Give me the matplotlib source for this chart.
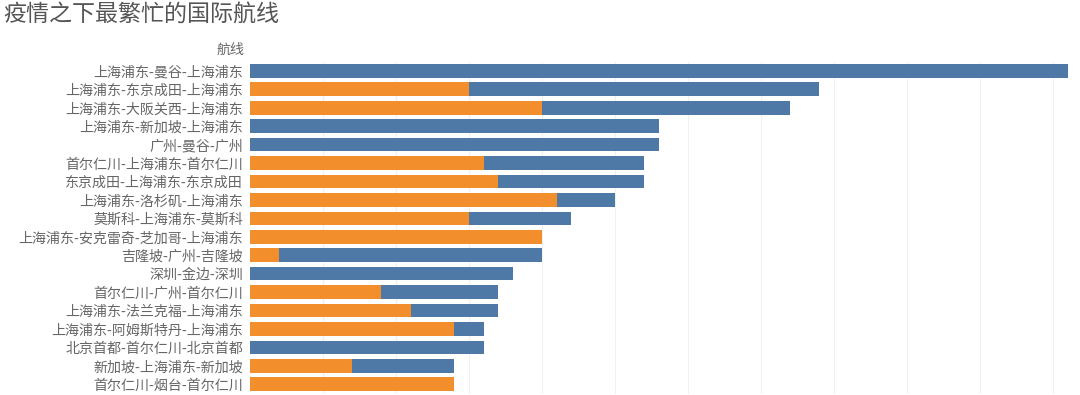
import matplotlib
matplotlib.use("Agg")
import matplotlib.pyplot as plt
import numpy as np

plt.rcParams['font.family'] = ['Noto Sans CJK SC', 'DejaVu Sans']

routes = [
    "上海浦东-曼谷-上海浦东",
    "上海浦东-东京成田-上海浦东",
    "上海浦东-大阪关西-上海浦东",
    "上海浦东-新加坡-上海浦东",
    "广州-曼谷-广州",
    "首尔仁川-上海浦东-首尔仁川",
    "东京成田-上海浦东-东京成田",
    "上海浦东-洛杉矶-上海浦东",
    "莫斯科-上海浦东-莫斯科",
    "上海浦东-安克雷奇-芝加哥-上海浦东",
    "吉隆坡-广州-吉隆坡",
    "深圳-金边-深圳",
    "首尔仁川-广州-首尔仁川",
    "上海浦东-法兰克福-上海浦东",
    "上海浦东-阿姆斯特丹-上海浦东",
    "北京首都-首尔仁川-北京首都",
    "新加坡-上海浦东-新加坡",
    "首尔仁川-烟台-首尔仁川",
]
orange_vals = [0, 15, 20, 0, 0, 16, 17, 21, 15, 20, 2, 0, 9, 11, 14, 0, 7, 14]
blue_vals = [56, 24, 17, 28, 28, 11, 10, 4, 7, 0, 18, 18, 8, 6, 2, 16, 7, 0]

ORANGE = "#F28E2B"
BLUE = "#4E79A7"

W, H = 1080, 395
fig = plt.figure(figsize=(W / 100, H / 100), dpi=100)
ax_left, ax_right = 250 / W, 1078 / W
ax_top, ax_bottom = 1 - 61.6 / H, 1 - 393.5 / H
ax = fig.add_axes([ax_left, ax_bottom, ax_right - ax_left, ax_top - ax_bottom])

y = np.arange(len(routes))
orange = np.array(orange_vals)
blue = np.array(blue_vals)
ax.barh(y, orange, height=0.74, color=ORANGE, zorder=2)
ax.barh(y, blue, left=orange, height=0.74, color=BLUE, zorder=2)

ax.set_ylim(len(routes) - 0.5, -0.5)
ax.set_xlim(0, 828 / 14.6)
ax.set_xticks(np.arange(5, 60, 5))
ax.xaxis.grid(True, color="#f0f0f0", linewidth=0.8, zorder=0)
ax.tick_params(axis='x', length=0, labelbottom=False)
ax.set_yticks(y)
ax.set_yticklabels(routes, fontsize=10.1, color="#666666")
ax.tick_params(axis='y', length=0, pad=5)
for s in ax.spines.values():
    s.set_visible(False)

fig.text(245 / W, 1 - 50 / H, "航线", ha='right', va='center', fontsize=10.1, color="#666666")
fig.text(3 / W, 1 - 15 / H, "疫情之下最繁忙的国际航线", ha='left', va='center', fontsize=16.6, color="#555555")

fig.savefig("out.png", dpi=100)
